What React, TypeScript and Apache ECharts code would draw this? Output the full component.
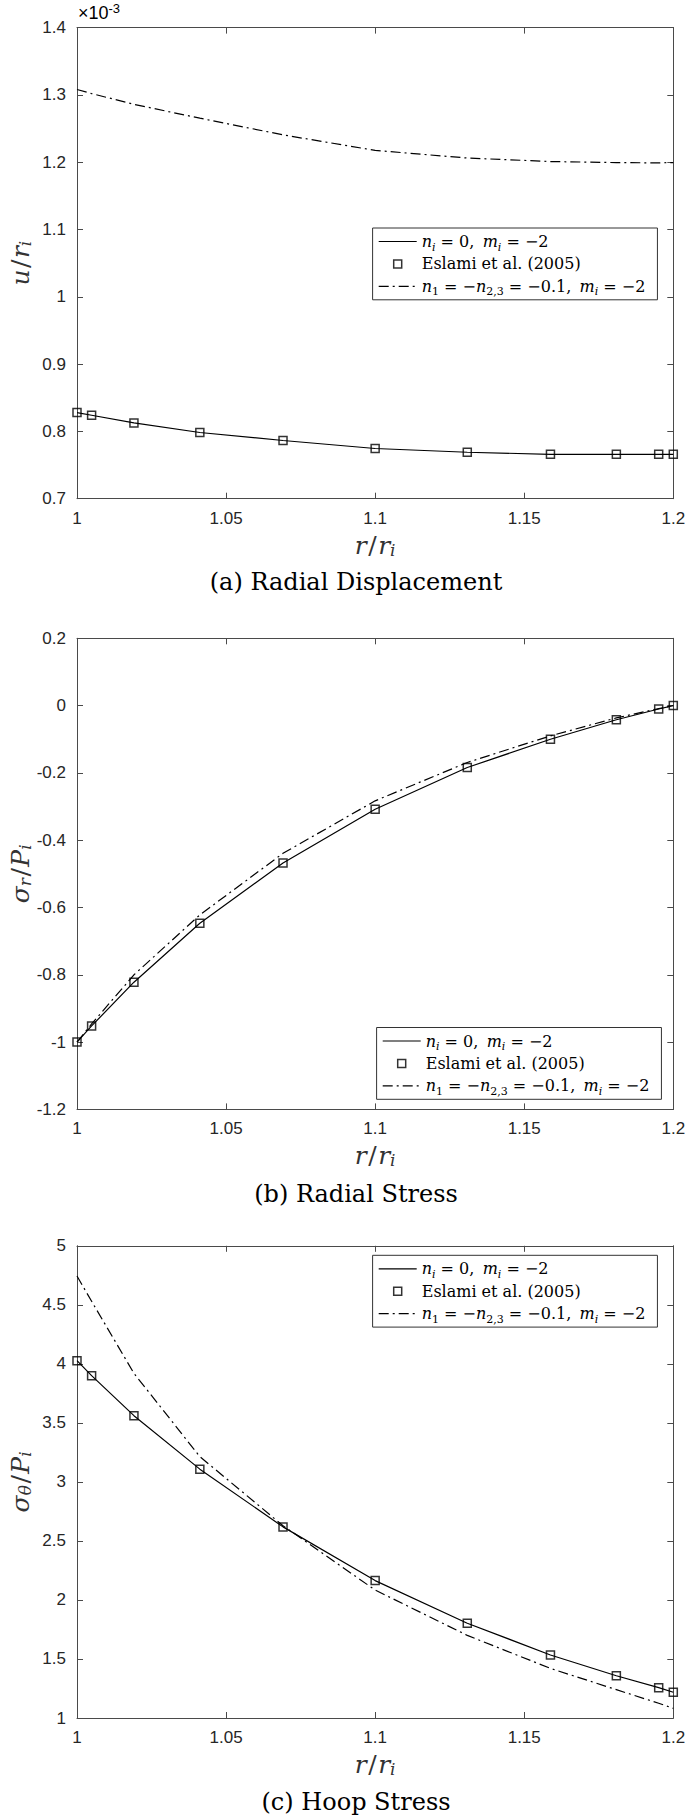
import React, { useEffect, useRef } from 'react';
import * as echarts from 'echarts';

// r / r_i sample points (shared by all three panels)
const rRatio = [1, 1.0049, 1.0191, 1.0412, 1.0691, 1.1, 1.1309, 1.1588, 1.1809, 1.1951, 1.2];
const xTicks = [1, 1.05, 1.1, 1.15, 1.2];

// (a) Radial displacement u/r_i  (x 10^-3)
const dispHomog = [0.828, 0.824, 0.8126, 0.7984, 0.7865, 0.7746, 0.769, 0.766, 0.766, 0.766, 0.766];
const dispEslami = [0.828, 0.824, 0.8126, 0.7984, 0.7865, 0.7746, 0.769, 0.766, 0.766, 0.766, 0.766];
const dispGraded = [1.308, 1.302, 1.286, 1.2654, 1.2406, 1.2175, 1.2062, 1.201, 1.1994, 1.199, 1.1995];
const dispTicks = [0.7, 0.8, 0.9, 1.0, 1.1, 1.2, 1.3, 1.4];

// (b) Radial stress sigma_r / P_i
const radHomog = [-1.0, -0.952, -0.822, -0.647, -0.4675, -0.308, -0.184, -0.1, -0.042, -0.01, 0.0];
const radEslami = [-1.0, -0.952, -0.822, -0.647, -0.4675, -0.308, -0.184, -0.1, -0.042, -0.01, 0.0];
const radGraded = [-1.0, -0.946, -0.8, -0.622, -0.439, -0.283, -0.169, -0.09, -0.0365, -0.009, 0.0];
const radTicks = [-1.2, -1.0, -0.8, -0.6, -0.4, -0.2, 0, 0.2];

// (c) Hoop stress sigma_theta / P_i
const hoopHomog = [4.027, 3.9, 3.561, 3.108, 2.619, 2.164, 1.803, 1.534, 1.358, 1.257, 1.218];
const hoopEslami = [4.027, 3.9, 3.561, 3.108, 2.619, 2.164, 1.803, 1.534, 1.358, 1.257, 1.218];
const hoopGraded = [4.744, 4.53, 3.92, 3.214, 2.629, 2.084, 1.7, 1.42, 1.24, 1.125, 1.082];
const hoopTicks = [1, 1.5, 2, 2.5, 3, 3.5, 4, 4.5, 5];

const captions = ['(a) Radial Displacement', '(b) Radial Stress', '(c) Hoop Stress'];
const yTitles = ['{i|u}{r|/}{i|r}{s|i}', '{i|σ}{s|r}{r|/}{i|P}{s|i}', '{i|σ}{s|θ}{r|/}{i|P}{s|i}'];
const xTitle = '{i|r}{r|/}{i|r}{s|i}';

const NAME_FG = 'n_i = 0, m_i = -2';
const NAME_ESL = 'Eslami et al. (2005)';
const NAME_GR = 'n_1 = -n_{2,3} = -0.1, m_i = -2';
const legendText: Record<string, string> = {
  [NAME_FG]: '{i|n}{s|i}{r|\u00a0=\u00a00,\u00a0\u2009}{i|m}{s|i}{r|\u00a0=\u00a0\u22122}',
  [NAME_ESL]: '{r|Eslami\u00a0et\u00a0al.\u00a0(2005)}',
  [NAME_GR]: '{i|n}{sr|1}{r|\u00a0=\u00a0\u2212}{i|n}{sr|2,3}{r|\u00a0=\u00a0\u22120.1,\u00a0\u2009}{i|m}{s|i}{r|\u00a0=\u00a0\u22122}',
};

const SERIF = '"DejaVu Serif", serif';
const SANS = '"Liberation Sans", Arial, sans-serif';
const AXC = '#4a4a4a';
const TXT = '#262626';
const SQUARE = 'path://M0,0H10V10H0Z';

const grids = [
  { left: 77, top: 27.6, width: 596.3, height: 471.1 },
  { left: 77, top: 638.3, width: 596.3, height: 471.1 },
  { left: 77, top: 1245.8, width: 596.3, height: 472.2 },
];
const legendPos = [
  { left: 372.6, top: 228 },
  { left: 376.6, top: 1027.5 },
  { left: 372.6, top: 1255.3 },
];
const captionY = [582, 1194, 1802];

const titleRich = {
  i: { fontFamily: SERIF, fontStyle: 'italic', fontSize: 25, lineHeight: 26, color: '#333' },
  r: { fontFamily: SERIF, fontSize: 25, lineHeight: 26, color: '#333', padding: [0, 1.5, 0, 1.5] },
  s: { fontFamily: SERIF, fontStyle: 'italic', fontSize: 17, lineHeight: 13, verticalAlign: 'bottom', color: '#333' },
};
const legendRich = {
  i: { fontFamily: SERIF, fontStyle: 'italic', fontSize: 16, lineHeight: 22, color: '#000' },
  r: { fontFamily: SERIF, fontSize: 16, lineHeight: 22, color: '#000' },
  s: { fontFamily: SERIF, fontStyle: 'italic', fontSize: 11, lineHeight: 13, verticalAlign: 'bottom', color: '#000' },
  sr: { fontFamily: SERIF, fontSize: 11, lineHeight: 13, verticalAlign: 'bottom', color: '#000' },
};

function step(t: number[]) {
  return +(t[1] - t[0]).toFixed(6);
}

export default function App() {
  const ref = useRef<HTMLDivElement>(null);
  useEffect(() => {
    if (!ref.current) return;
    const chart = echarts.init(ref.current, null, { renderer: 'svg' });
    const panels = [
      { homog: dispHomog, esl: dispEslami, graded: dispGraded, ticks: dispTicks },
      { homog: radHomog, esl: radEslami, graded: radGraded, ticks: radTicks },
      { homog: hoopHomog, esl: hoopEslami, graded: hoopGraded, ticks: hoopTicks },
    ];
    const xAxis: any[] = [];
    const yAxis: any[] = [];
    const series: any[] = [];
    const legend: any[] = [];
    const graphic: any[] = [];
    const lineAx = { show: true, onZero: false, lineStyle: { color: AXC, width: 1 } };
    const tick = { show: true, inside: true, length: 6, lineStyle: { color: AXC, width: 1 } };
    panels.forEach((p, k) => {
      const xMin = xTicks[0], xMax = xTicks[xTicks.length - 1], xInt = step(xTicks);
      const yMin = p.ticks[0], yMax = p.ticks[p.ticks.length - 1], yInt = step(p.ticks);
      xAxis.push({
        gridIndex: k, type: 'value', position: 'bottom', min: xMin, max: xMax, interval: xInt,
        axisLine: lineAx, axisTick: tick, splitLine: { show: false },
        axisLabel: { color: TXT, fontFamily: SANS, fontSize: 17, margin: 11, showMinLabel: true, showMaxLabel: true },
        name: xTitle, nameLocation: 'middle', nameGap: 33.3, nameMoveOverlap: false,
        nameTextStyle: { rich: titleRich },
      });
      xAxis.push({
        gridIndex: k, type: 'value', position: 'top', min: xMin, max: xMax, interval: xInt,
        axisLine: lineAx, axisTick: tick, splitLine: { show: false }, axisLabel: { show: false },
      });
      yAxis.push({
        gridIndex: k, type: 'value', position: 'left', min: yMin, max: yMax, interval: yInt,
        axisLine: lineAx, axisTick: tick, splitLine: { show: false },
        axisLabel: { color: TXT, fontFamily: SANS, fontSize: 17, margin: 11, showMinLabel: true, showMaxLabel: true },
        name: yTitles[k], nameLocation: 'middle', nameGap: 44, nameRotate: 90, nameMoveOverlap: false,
        nameTextStyle: { rich: titleRich },
      });
      yAxis.push({
        gridIndex: k, type: 'value', position: 'right', min: yMin, max: yMax, interval: yInt,
        axisLine: lineAx, axisTick: tick, splitLine: { show: false }, axisLabel: { show: false },
      });
      const xi = 2 * k, yi = 2 * k;
      series.push({
        type: 'line', name: NAME_FG, xAxisIndex: xi, yAxisIndex: yi,
        data: rRatio.map((r, j) => [r, p.homog[j]]),
        symbol: 'none', lineStyle: { color: '#000', width: 1.2 }, itemStyle: { color: '#000' }, z: 3,
      });
      series.push({
        type: 'scatter', name: NAME_ESL, xAxisIndex: xi, yAxisIndex: yi,
        data: rRatio.map((r, j) => [r, p.esl[j]]),
        symbol: 'rect', symbolSize: 8,
        itemStyle: { color: 'rgba(0,0,0,0)', borderColor: '#000', borderWidth: 1.5 }, z: 5,
      });
      series.push({
        type: 'line', name: NAME_GR, xAxisIndex: xi, yAxisIndex: yi,
        data: rRatio.map((r, j) => [r, p.graded[j]]),
        symbol: 'none', lineStyle: { color: '#000', width: 1.2, type: [10, 4, 2, 4] },
        itemStyle: { color: '#000' }, z: 3,
      });
      legend.push({
        orient: 'vertical', left: legendPos[k].left, top: legendPos[k].top,
        padding: [2.5, 12, 2.5, 5.5], itemWidth: 38, itemHeight: 8, itemGap: 0.4,
        borderColor: '#333', borderWidth: 1, backgroundColor: '#fff',
        selectedMode: false, align: 'left', symbolKeepAspect: true,
        itemStyle: { borderWidth: 1.5 },
        lineStyle: { width: 1.2 },
        textStyle: { fontFamily: SERIF, fontSize: 16, color: '#000', lineHeight: 22, rich: legendRich },
        formatter: (name: string) => legendText[name] || name,
        data: [
          { name: NAME_FG, itemStyle: { opacity: 0 } },
          { name: NAME_ESL, icon: SQUARE, symbolKeepAspect: true },
          { name: NAME_GR, itemStyle: { opacity: 0 } },
        ],
      });
      graphic.push({
        type: 'text', x: 356, y: captionY[k], silent: true,
        style: { text: captions[k], fontFamily: SERIF, fontSize: 24, fill: '#000', align: 'center', verticalAlign: 'middle' },
      });
    });
    graphic.push({
      type: 'text', x: 78, y: 2, silent: true,
      style: {
        text: '{a|×10}{b|-3}',
        rich: {
          a: { fontFamily: SANS, fontSize: 18, lineHeight: 22, color: TXT },
          b: { fontFamily: SANS, fontSize: 13, lineHeight: 13, verticalAlign: 'top', color: TXT },
        },
      },
    });
    chart.setOption({
      animation: false,
      backgroundColor: '#fff',
      grid: grids.map((g) => ({ ...g, containLabel: false, outerBoundsMode: 'none' })),
      xAxis, yAxis, series, legend, graphic,
    });
    return () => chart.dispose();
  }, []);
  return <div ref={ref} style={{ position: 'absolute', left: 0, top: 0, width: 685, height: 1819 }} />;
}
